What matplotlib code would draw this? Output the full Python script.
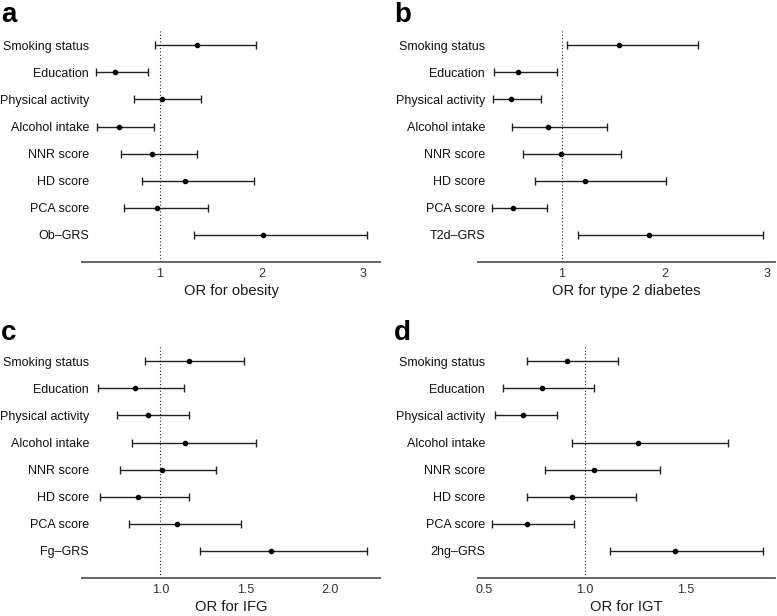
import numpy as np
import matplotlib
matplotlib.use("Agg")
import matplotlib.pyplot as plt

plt.rcParams['font.family'] = ['Liberation Sans', 'DejaVu Sans']

labels_common = ["Smoking status", "Education", "Physical activity", "Alcohol intake",
                 "NNR score", "HD score", "PCA score"]

# panel a: obesity
or_a = [1.365, 0.557, 1.023, 0.599, 0.921, 1.25, 0.974, 2.015]
lo_a = [0.953, 0.367, 0.741, 0.382, 0.619, 0.825, 0.642, 1.338]
hi_a = [1.95, 0.882, 1.404, 0.941, 1.365, 1.93, 1.476, 3.04]

# panel b: type 2 diabetes
or_b = [1.553, 0.571, 0.506, 0.863, 0.993, 1.228, 0.519, 1.849]
lo_b = [1.046, 0.337, 0.33, 0.509, 0.62, 0.74, 0.314, 1.153]
hi_b = [2.333, 0.954, 0.792, 1.442, 1.572, 2.018, 0.857, 2.958]

# panel c: IFG
or_c = [1.169, 0.850, 0.928, 1.144, 1.01, 0.870, 1.097, 1.650]
lo_c = [0.911, 0.635, 0.744, 0.831, 0.763, 0.643, 0.819, 1.235]
hi_c = [1.493, 1.138, 1.169, 1.563, 1.326, 1.169, 1.474, 2.214]

# panel d: IGT
or_d = [0.911, 0.790, 0.693, 1.263, 1.048, 0.939, 0.716, 1.450]
lo_d = [0.712, 0.595, 0.557, 0.939, 0.802, 0.712, 0.539, 1.126]
hi_d = [1.165, 1.048, 0.861, 1.714, 1.372, 1.253, 0.949, 1.883]

grs_labels = ["Ob\u2013GRS", "T2d\u2013GRS", "Fg\u2013GRS", "2hg\u2013GRS"]
xlabels = ["OR for obesity", "OR for type 2 diabetes", "OR for IFG", "OR for IGT"]
letters = ["a", "b", "c", "d"]
xticks = [[1, 2, 3], [1, 2, 3], [1.0, 1.5, 2.0], [0.5, 1.0, 1.5]]
ticklabels = [["1", "2", "3"], ["1", "2", "3"], ["1.0", "1.5", "2.0"], ["0.5", "1.0", "1.5"]]
xlims = [(0.232, 3.17), (0.18, 3.08), (0.54, 2.291), (0.471, 1.945)]

panels = [(or_a, lo_a, hi_a), (or_b, lo_b, hi_b), (or_c, lo_c, hi_c), (or_d, lo_d, hi_d)]

W, H = 777, 616
fig = plt.figure(figsize=(W / 100, H / 100), dpi=100)

# axes boxes in pixels: left, top, right, bottom
boxes = [(82, 29, 380, 262), (478, 29, 775, 262),
         (82, 345, 380, 578), (478, 345, 775, 578)]
letter_xy = [(1, 22), (394, 22), (1, 340), (394, 340)]

for i, (est, lo, hi) in enumerate(panels):
    l, t, r, b = boxes[i]
    ax = fig.add_axes([l / W, 1 - b / H, (r - l) / W, (b - t) / H])
    est = np.array(est)
    lo = np.array(lo)
    hi = np.array(hi)
    ypos = np.arange(len(est))[::-1]
    ax.axvline(1, color="#222222", linestyle=(0, (1, 2)), linewidth=0.8, zorder=1)
    ax.errorbar(est, ypos, xerr=[est - lo, hi - est], fmt="o", color="black",
                ecolor="#222222", elinewidth=1.0, capsize=2.6, capthick=1.0,
                markersize=3.0, zorder=3)
    ax.set_ylim(-1.0, 7.6)
    ax.set_xlim(*xlims[i])
    ax.set_yticks(ypos)
    ax.set_yticklabels(labels_common + [grs_labels[i]], fontsize=9.0, color="#111111")
    ax.set_xticks(xticks[i])
    ax.set_xticklabels(ticklabels[i], fontsize=9, color="#333333")
    ax.tick_params(axis="x", length=0, pad=4)
    ax.tick_params(axis="y", length=0, pad=-5)
    ax.set_xlabel(xlabels[i], fontsize=10.6, color="#1a1a1a", labelpad=3)
    for s in ["top", "right", "left"]:
        ax.spines[s].set_visible(False)
    ax.spines["bottom"].set_color("#666666")
    ax.spines["bottom"].set_linewidth(1.4)
    ax.patch.set_alpha(0)
    lx, ly = letter_xy[i]
    fig.text(lx / W, 1 - ly / H, letters[i],
             fontsize=20, fontweight="bold", va="baseline", ha="left")

fig.savefig("out.png", dpi=100)
